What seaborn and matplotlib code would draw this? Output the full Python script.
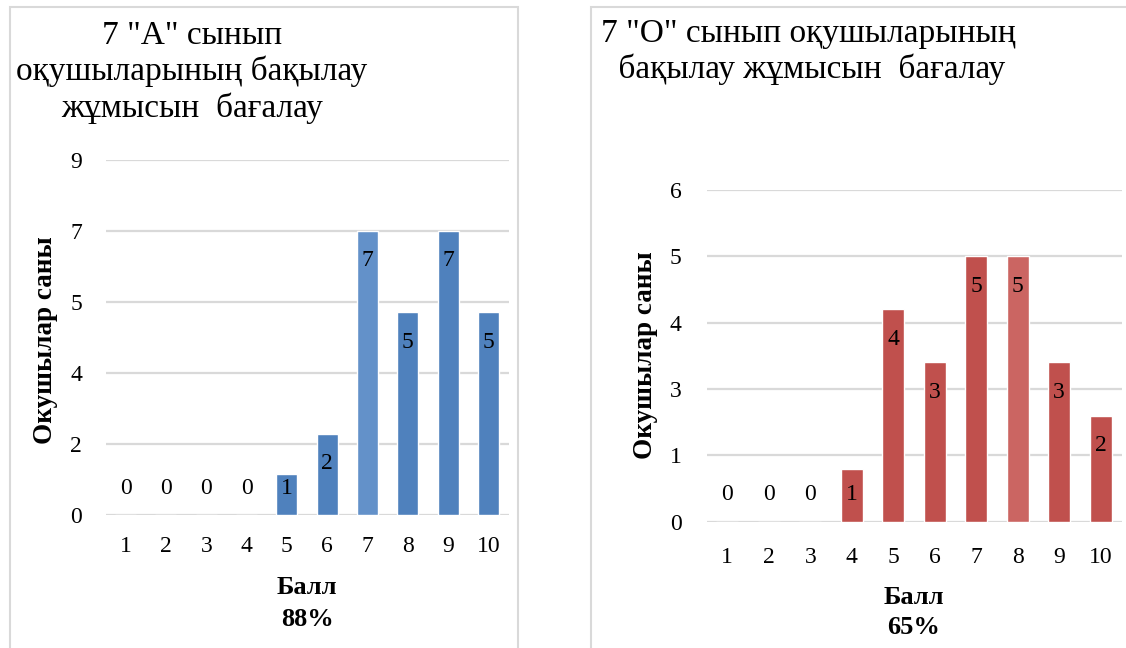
import matplotlib
matplotlib.use("Agg")
import matplotlib.pyplot as plt
import matplotlib.patches as patches
import seaborn as sns

# data
scores = ["1", "2", "3", "4", "5", "6", "7", "8", "9", "10"]
class_a = [0, 0, 0, 0, 1, 2, 7, 5, 7, 5]
class_o = [0, 0, 0, 1, 4, 3, 5, 5, 3, 2]

a_ticks = [0, 1.75, 3.5, 5.25, 7, 8.75]
a_tick_labels = ["0", "2", "4", "5", "7", "9"]
o_ticks = [0, 1.25, 2.5, 3.75, 5, 6.25]
o_tick_labels = ["0", "1", "3", "4", "5", "6"]

title_a = '7 "A" сынып\nоқушыларының бақылау\nжұмысын  бағалау'
title_o = '7 "О" сынып оқушыларының\n бақылау жұмысын  бағалау'
ylabel = "Окушылар саны"
xlabel = "Балл"
pct_a = "88%"
pct_o = "65%"

blue = "#4F81BD"
blue_light = "#6391C9"
red = "#C0504D"
red_light = "#CB6562"

sns.set_style("white")
plt.rcParams["font.family"] = ["Liberation Serif", "DejaVu Serif"]
plt.rcParams["text.color"] = "black"

W, H = 1126, 648
fig = plt.figure(figsize=(W / 100, H / 100), dpi=100)


def fx(px):
    return px / W


def fy(py):
    return 1 - py / H


# chart borders
for x0, x1 in [(10, 518), (591, 1130)]:
    fig.patches.append(patches.Rectangle((fx(x0), fy(660)), fx(x1 - x0), (653) / H,
                                         transform=fig.transFigure, fill=False,
                                         edgecolor="#D9D9D9", lw=1.5))


def panel(ax, vals, colors, ticks, tick_labels, ymax, ylab_x, ylab_y, xlab_y, pct,
          ytick_pad, xtick_pad, pct_gap):
    sns.barplot(x=scores, y=vals, hue=scores, palette=colors, legend=False,
                width=0.52, ax=ax, saturation=1)
    ax.set_xlim(-0.5, 9.5)
    ax.set_ylim(0, ymax)
    ax.set_yticks(ticks)
    ax.set_yticklabels(tick_labels)
    ax.yaxis.grid(True, color="#D9D9D9", lw=1.6)
    ax.set_axisbelow(True)
    for s in ax.spines.values():
        s.set_visible(False)
    ax.tick_params(axis="y", length=0, pad=ytick_pad, labelsize=17, labelcolor="black")
    ax.tick_params(axis="x", length=0, pad=xtick_pad, labelsize=17, labelcolor="black")
    ax.set_xlabel("")
    ax.set_ylabel("")
    y0 = ax.transData.transform((0, 0))[1]
    for i, v in enumerate(vals):
        h = ax.transData.transform((0, v))[1] - y0
        off = max(h - 30, 27)
        ax.annotate(str(v), xy=(i, 0), xytext=(0, off), textcoords="offset pixels",
                    ha="center", va="center", fontsize=17, color="black")
    fig.text(fx(ylab_x), fy(ylab_y), ylabel, rotation=90, ha="center", va="center",
             fontsize=19.5, fontweight="bold")
    xc = (ax.get_position().x0 + ax.get_position().x1) / 2
    fig.text(xc, fy(xlab_y), xlabel, ha="center", va="center", fontsize=19, fontweight="bold")
    fig.text(xc, fy(xlab_y + pct_gap), pct, ha="center", va="center", fontsize=19,
             fontweight="bold")


ax1 = fig.add_axes([fx(105.5), fy(515), fx(403), 355 / H])
panel(ax1, class_a, [blue] * 6 + [blue_light] + [blue] * 3, a_ticks, a_tick_labels,
      8.75, 46, 340, 587, pct_a, 17, 15, 33)

ax2 = fig.add_axes([fx(706.5), fy(521.7), fx(415), 331.7 / H])
panel(ax2, class_o, [red] * 7 + [red_light] + [red] * 2, o_ticks, o_tick_labels,
      6.25, 645, 355, 597, pct_o, 18, 18, 31)

fig.text(fx(192), fy(72), title_a, ha="center", va="center", fontsize=24, linespacing=1.2)
fig.text(fx(808), fy(52), title_o, ha="center", va="center", fontsize=24, linespacing=1.2)

fig.savefig("out.png", dpi=100)
